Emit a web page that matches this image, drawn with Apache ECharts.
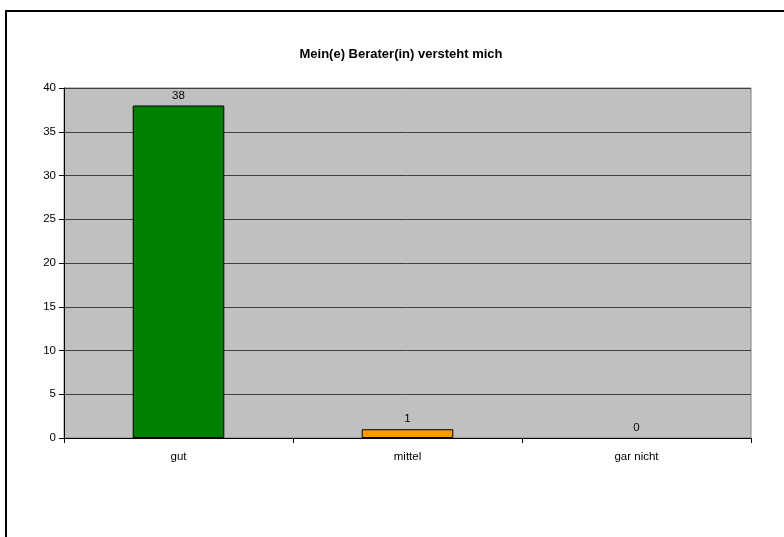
<!DOCTYPE html>
<html>
<head>
<meta charset="utf-8">
<script src="https://cdn.jsdelivr.net/npm/echarts@6/dist/echarts.min.js"></script>
<style>
html,body{margin:0;padding:0;background:#fff;}
#c{width:784px;height:537px;}
</style>
</head>
<body>
<div id="c"></div>
<script>
var categories = ['gut', 'mittel', 'gar nicht'];
var values = [38, 1, 0];
var barColors = ['#008000', '#FF9900', '#9999FF'];
var yTicks = [0, 5, 10, 15, 20, 25, 30, 35, 40];

var chart = echarts.init(document.getElementById('c'), null, {renderer: 'canvas'});
var font = 'Liberation Sans, Arial, sans-serif';
chart.setOption({
  animation: false,
  backgroundColor: '#fff',
  graphic: [{
    type: 'rect', silent: true, z: -10,
    shape: {x: 6, y: 11, width: 900, height: 700},
    style: {fill: 'none', stroke: '#000', lineWidth: 2}
  }],
  title: {
    text: 'Mein(e) Berater(in) versteht mich',
    left: 396, textAlign: 'center', top: 43,
    textStyle: {fontFamily: font, fontSize: 13, fontWeight: 'bold', color: '#000'}
  },
  grid: {
    left: 64, right: 33, top: 88, bottom: 99,
    show: true, backgroundColor: '#C0C0C0', borderColor: '#808080', borderWidth: 1
  },
  xAxis: {
    type: 'category', data: categories,
    axisLine: {lineStyle: {color: '#000', width: 1}},
    axisTick: {show: true, length: 5, alignWithLabel: false, lineStyle: {color: '#000'}},
    axisLabel: {fontFamily: font, fontSize: 11.5, color: '#000', margin: 13}
  },
  yAxis: {
    type: 'value', min: yTicks[0], max: yTicks[yTicks.length - 1], interval: 5,
    axisLine: {show: true, lineStyle: {color: '#000', width: 1}},
    axisTick: {show: true, length: 5, lineStyle: {color: '#000'}},
    axisLabel: {fontFamily: font, fontSize: 11.5, color: '#000', margin: 8},
    splitLine: {show: true, lineStyle: {color: '#404040', width: 1}}
  },
  series: [{
    type: 'bar',
    barWidth: '40%',
    data: values.map(function (v, i) {
      return {value: v, itemStyle: {color: barColors[i], borderColor: '#000', borderWidth: v === 0 ? 0 : 1}};
    }),
    label: {show: true, position: 'top', distance: 4, fontFamily: font, fontSize: 11.5, color: '#000'}
  }]
});
</script>
</body>
</html>
